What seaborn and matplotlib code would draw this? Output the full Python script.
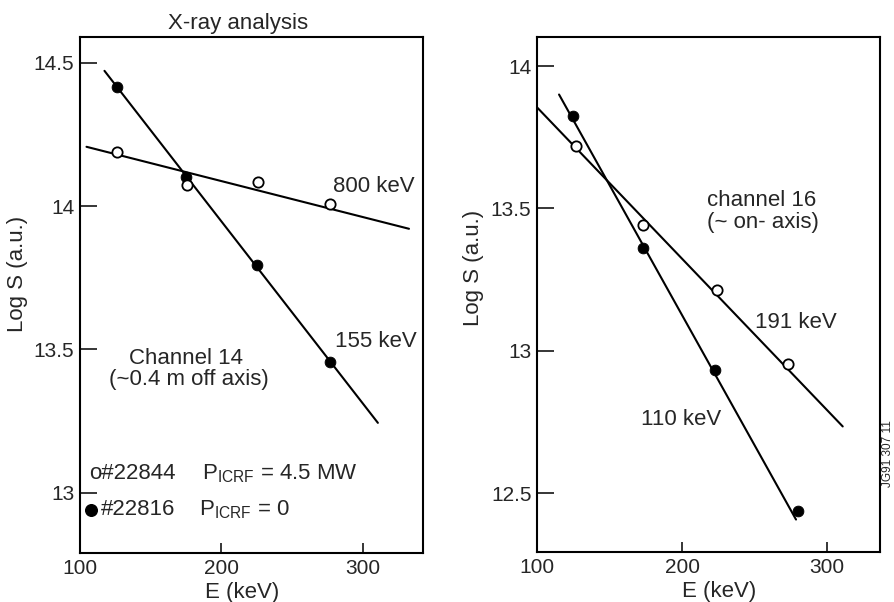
import matplotlib
matplotlib.use("Agg")
import matplotlib.pyplot as plt
import seaborn as sns
import pandas as pd
import numpy as np

# ---- data ----
# Channel 14 (left panel)
ch14_E_open = [126, 176, 226, 277]
ch14_S_open = [14.19, 14.074, 14.085, 14.008]
ch14_E_fill = [126, 175, 225, 277]
ch14_S_fill = [14.416, 14.10, 13.795, 13.457]
ch14_fit_open_E = [104.6, 332.6]
ch14_fit_open_S = [14.207, 13.921]
ch14_fit_fill_E = [117.3, 310.6]
ch14_fit_fill_S = [14.472, 13.244]

# Channel 16 (right panel)
ch16_E_open = [127, 173, 224, 273]
ch16_S_open = [13.72, 13.44, 13.214, 12.953]
ch16_E_fill = [125, 173, 223, 280]
ch16_S_fill = [13.825, 13.361, 12.931, 12.436]
ch16_fit_open_E = [100, 310.8]
ch16_fit_open_S = [13.855, 12.734]
ch16_fit_fill_E = [115.2, 278.6]
ch16_fit_fill_S = [13.90, 12.407]

left_yticks = [13, 13.5, 14, 14.5]
left_yticklabels = ["13", "13.5", "14", "14.5"]
right_yticks = [12.5, 13, 13.5, 14]
right_yticklabels = ["12.5", "13", "13.5", "14"]
xticks = [100, 200, 300]

sns.set_style("ticks")
plt.rcParams["font.family"] = ["Liberation Sans", "DejaVu Sans"]
plt.rcParams["mathtext.fontset"] = "custom"
plt.rcParams["mathtext.rm"] = "Liberation Sans"
plt.rcParams["mathtext.it"] = "Liberation Sans"

fig = plt.figure(figsize=(8.94, 6.02), dpi=100)
axL = fig.add_axes([80 / 894, 49 / 602, 343 / 894, 516 / 602])
axR = fig.add_axes([537 / 894, 50 / 602, 343 / 894, 515 / 602])

TXT = 16
TICK = 15


def draw(ax, Eo, So, Ef, Sf, fEo, fSo, fEf, fSf):
    sns.lineplot(x=fEo, y=fSo, ax=ax, color="black", lw=1.5, estimator=None, sort=False)
    sns.lineplot(x=fEf, y=fSf, ax=ax, color="black", lw=1.5, estimator=None, sort=False)
    sns.scatterplot(x=Ef, y=Sf, ax=ax, color="black", edgecolor="black", s=60, zorder=5)
    sns.scatterplot(x=Eo, y=So, ax=ax, color="white", edgecolor="black", linewidth=1.3, s=55, zorder=5)


def style(ax):
    for sp in ax.spines.values():
        sp.set_visible(True)
        sp.set_linewidth(1.5)
        sp.set_color("black")
    ax.tick_params(axis="y", direction="in", length=12, width=1.3, labelsize=TICK, pad=4)
    ax.tick_params(axis="x", direction="in", length=7, width=1.3, labelsize=TICK, pad=4)
    ax.set_xticks(xticks)
    ax.set_xticklabels([str(t) for t in xticks])
    ax.set_xlabel("E (keV)", fontsize=TXT)
    ax.set_ylabel("Log S (a.u.)", fontsize=TXT)


# left panel
draw(axL, ch14_E_open, ch14_S_open, ch14_E_fill, ch14_S_fill,
     ch14_fit_open_E, ch14_fit_open_S, ch14_fit_fill_E, ch14_fit_fill_S)
axL.set_xlim(100, 342.5)
axL.set_ylim(12.79, 14.59)
axL.set_yticks(left_yticks)
axL.set_yticklabels(left_yticklabels)
style(axL)
axL.yaxis.set_label_coords(-0.152, 0.54)
axL.xaxis.set_label_coords(0.472, -0.057)
axL.set_title("X-ray analysis", fontsize=TXT, x=0.46, pad=6)

axL.text(279, 14.067, "800 keV", fontsize=TXT, va="center", ha="left")
axL.text(280, 13.527, "155 keV", fontsize=TXT, va="center", ha="left")
axL.text(175, 13.467, "Channel 14", fontsize=TXT, va="center", ha="center")
axL.text(177, 13.394, "(~0.4 m off axis)", fontsize=TXT, va="center", ha="center")
axL.text(106.5, 13.066, "o#22844", fontsize=TXT, va="center", ha="left")
axL.text(186, 13.066, r"P$_{\mathrm{ICRF}}$ = 4.5 MW", fontsize=TXT, va="center", ha="left")
axL.scatter([108], [12.94], s=70, color="black", zorder=5)
axL.text(114.5, 12.94, "#22816", fontsize=TXT, va="center", ha="left")
axL.text(184, 12.94, r"P$_{\mathrm{ICRF}}$ = 0", fontsize=TXT, va="center", ha="left")

# right panel
draw(axR, ch16_E_open, ch16_S_open, ch16_E_fill, ch16_S_fill,
     ch16_fit_open_E, ch16_fit_open_S, ch16_fit_fill_E, ch16_fit_fill_S)
axR.set_xlim(100, 336.5)
axR.set_ylim(12.293, 14.102)
axR.set_yticks(right_yticks)
axR.set_yticklabels(right_yticklabels)
style(axR)
axR.yaxis.set_label_coords(-0.155, 0.551)
axR.xaxis.set_label_coords(0.53, -0.057)

axR.text(255, 13.526, "channel 16", fontsize=TXT, va="center", ha="center")
axR.text(256, 13.449, "(~ on- axis)", fontsize=TXT, va="center", ha="center")
axR.text(250, 13.098, "191 keV", fontsize=TXT, va="center", ha="left")
axR.text(171.5, 12.758, "110 keV", fontsize=TXT, va="center", ha="left")

fig.text(888 / 894, 1 - 454 / 602, "JG91 307 11", rotation=90, fontsize=8.5,
         ha="center", va="center")

fig.savefig("out.png", dpi=100)
